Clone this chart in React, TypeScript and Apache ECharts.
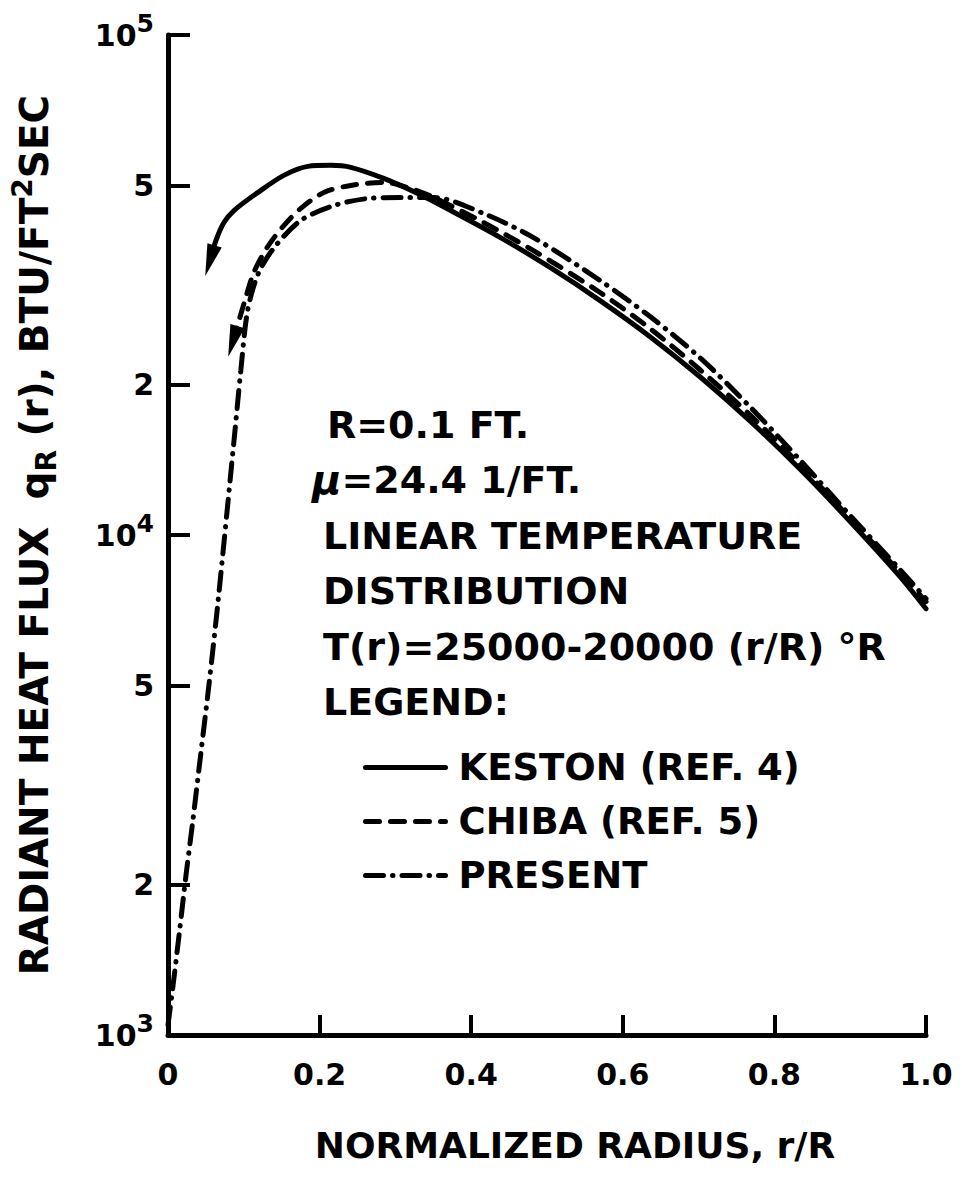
import React, { useEffect, useRef } from 'react';
import * as echarts from 'echarts';

const FONT = "'DejaVu Sans', 'Liberation Sans', sans-serif";

// Axis ticks
const xTicks = [0, 0.2, 0.4, 0.6, 0.8, 1.0];
const xTickLabels = ['0', '0.2', '0.4', '0.6', '0.8', '1.0'];
const yTicks = [1000, 2000, 5000, 10000, 20000, 50000, 100000];
const yTickBase = ['10', '2', '5', '10', '2', '5', '10'];
const yTickExp = ['3', '', '', '4', '', '', '5'];

// Series names
const seriesNames = ['KESTON (REF. 4)', 'CHIBA (REF. 5)', 'PRESENT'];

// KESTON (REF. 4) – solid (first point carries the arrow head)
const kestonR = [0.0553, 0.0632, 0.0738, 0.087, 0.1186, 0.1528, 0.1845, 0.2148, 0.2411, 0.2846, 0.3294, 0.3729, 0.4387, 0.5046, 0.5705, 0.6364, 0.7022, 0.7681, 0.834, 0.8999, 0.9657, 1.0];
const kestonQ = [35370, 38800, 42160, 44560, 48430, 52390, 54600, 54860, 54360, 51660, 48200, 44560, 39340, 34240, 29400, 24900, 20700, 16890, 13530, 10640, 8257, 7121];

// CHIBA (REF. 5) – dashed (first point carries the arrow head)
const chibaR = [0.0856, 0.1028, 0.1133, 0.1318, 0.1528, 0.1752, 0.2055, 0.2411, 0.2846, 0.32, 0.3505, 0.4163, 0.4822, 0.5705, 0.6364, 0.7022, 0.7681, 0.834, 0.8999, 0.9657, 1.0];
const chibaQ = [24390, 29920, 33540, 37800, 41570, 44990, 48430, 50020, 50720, 49330, 47320, 42160, 37040, 30510, 25840, 21380, 17370, 13790, 10790, 8411, 7356];

// PRESENT – dash-dot
const presentR = [0, 0.0066, 0.0145, 0.0237, 0.033, 0.0435, 0.054, 0.066, 0.087, 0.096, 0.105, 0.119, 0.14, 0.175, 0.219, 0.264, 0.307, 0.3505, 0.4163, 0.4822, 0.5705, 0.6364, 0.7022, 0.7681, 0.834, 0.8999, 0.9657, 1.0];
const presentQ = [1047, 1254, 1580, 2084, 2700, 3680, 5013, 7356, 15400, 21280, 28080, 33310, 37550, 42550, 45600, 47100, 47320, 47320, 43960, 39340, 32250, 27310, 22600, 18030, 14110, 10940, 8527, 7458];

// Annotation text lines
const notes = ['R=0.1 FT.', '{m|μ}=24.4 1/FT.', 'LINEAR TEMPERATURE', 'DISTRIBUTION', 'T(r)=25000-20000 (r/R) °R', 'LEGEND:'];

const xTitle = 'NORMALIZED RADIUS, r/R';

function buildData(rs: number[], qs: number[], arrowRotate: number | null) {
  return rs.map((r, i) => {
    if (i === 0 && arrowRotate !== null) {
      return {
        value: [r, qs[i]],
        symbol: 'triangle',
        symbolSize: [15, 32],
        symbolRotate: arrowRotate,
        itemStyle: { color: '#000' },
      };
    }
    return [r, qs[i]];
  });
}

export default function App() {
  const ref = useRef<HTMLDivElement>(null);

  useEffect(() => {
    if (!ref.current) return;
    const chart = echarts.init(ref.current, null, { renderer: 'svg' });

    const noteX = [327, 312, 323, 323, 323, 323];
    const noteY = [425, 480, 536, 591, 647, 702];

    const option: any = {
      animation: false,
      backgroundColor: '#fff',
      grid: { left: 167, right: 36, top: 35, bottom: 144, containLabel: false },
      legend: {
        show: true,
        orient: 'vertical',
        left: 358,
        top: 744,
        itemWidth: 80,
        itemHeight: 20,
        itemGap: 17,
        selectedMode: false,
        data: seriesNames,
        itemStyle: { opacity: 0 },
        lineStyle: { width: 5 },
        textStyle: {
          fontFamily: FONT,
          fontWeight: 'bold',
          fontSize: 37,
          color: '#000',
          padding: [0, 0, 0, 8],
        },
      },
      xAxis: {
        type: 'value',
        min: 0,
        max: 1,
        interval: 0.2,
        name: xTitle,
        nameLocation: 'middle',
        nameGap: 92,
        nameTextStyle: {
          fontFamily: FONT,
          fontWeight: 'bold',
          fontSize: 36,
          color: '#000',
          padding: [0, 0, 0, 56],
        },
        axisLine: { show: true, lineStyle: { color: '#000', width: 5 } },
        axisTick: { show: true, inside: true, length: 20, lineStyle: { color: '#000', width: 4 } },
        axisLabel: {
          margin: 24,
          fontFamily: FONT,
          fontWeight: 'bold',
          fontSize: 30,
          color: '#000',
          formatter: (v: number) => {
            const i = xTicks.findIndex((t) => Math.abs(t - v) < 1e-9);
            return i >= 0 ? xTickLabels[i] : '';
          },
        },
        splitLine: { show: false },
      },
      yAxis: {
        type: 'log',
        logBase: 10,
        min: 1000,
        max: 100000,
        name: '{t|RADIANT HEAT FLUX  q}{sub|R}{t| (r), BTU/FT}{sup|2}{t|SEC}',
        nameLocation: 'middle',
        nameRotate: 90,
        nameGap: 108,
        nameTextStyle: {
          color: '#000',
          rich: {
            t: { fontFamily: FONT, fontWeight: 'bold', fontSize: 39, color: '#000' },
            sub: { fontFamily: FONT, fontWeight: 'bold', fontSize: 28, color: '#000', padding: [24, 0, 0, 0] },
            sup: { fontFamily: FONT, fontWeight: 'bold', fontSize: 28, color: '#000', padding: [0, 0, 24, 0] },
          },
        },
        axisLine: { show: true, lineStyle: { color: '#000', width: 5 } },
        axisTick: {
          show: true,
          inside: true,
          length: 22,
          customValues: yTicks,
          lineStyle: { color: '#000', width: 4 },
        },
        minorTick: { show: false },
        axisLabel: {
          margin: 14,
          customValues: yTicks,
          formatter: (v: number) => {
            const i = yTicks.findIndex((t) => Math.abs(t - v) < t * 1e-6);
            if (i < 0) return '';
            return yTickExp[i] ? `{b|${yTickBase[i]}}{s|${yTickExp[i]}}` : `{b|${yTickBase[i]}}`;
          },
          rich: {
            b: { fontFamily: FONT, fontWeight: 'bold', fontSize: 30, color: '#000' },
            s: { fontFamily: FONT, fontWeight: 'bold', fontSize: 25, color: '#000', padding: [0, 0, 24, 0] },
          },
        },
        splitLine: { show: false },
      },
      graphic: notes.map((txt, i) => ({
        type: 'text',
        x: noteX[i],
        y: noteY[i],
        style: {
          text: txt,
          fill: '#000',
          fontFamily: FONT,
          fontWeight: 'bold',
          fontSize: 38,
          textAlign: 'left',
          textVerticalAlign: 'middle',
          align: 'left',
          verticalAlign: 'middle',
          rich: {
            m: { fontFamily: FONT, fontWeight: 'bold', fontStyle: 'italic', fontSize: 40, fill: '#000' },
          },
        },
      })),
      series: [
        {
          type: 'line',
          name: seriesNames[0],
          data: buildData(kestonR, kestonQ, 163),
          smooth: 0.3,
          symbol: 'none',
          clip: false,
          lineStyle: { color: '#000', width: 5, type: 'solid', cap: 'round' },
          itemStyle: { color: '#000' },
        },
        {
          type: 'line',
          name: seriesNames[1],
          data: buildData(chibaR, chibaQ, 163),
          smooth: 0.3,
          symbol: 'none',
          clip: false,
          lineStyle: { color: '#000', width: 5, type: [14, 11], cap: 'round' },
          itemStyle: { color: '#000' },
        },
        {
          type: 'line',
          name: seriesNames[2],
          data: buildData(presentR, presentQ, null),
          smooth: 0.3,
          symbol: 'none',
          clip: false,
          lineStyle: { color: '#000', width: 5, type: [18, 9, 0.5, 9], cap: 'round' },
          itemStyle: { color: '#000' },
        },
      ],
    };

    chart.setOption(option);
    return () => chart.dispose();
  }, []);

  return (
    <div
      ref={ref}
      style={{ position: 'absolute', left: 0, top: 0, width: 962, height: 1179, background: '#fff' }}
    />
  );
}
